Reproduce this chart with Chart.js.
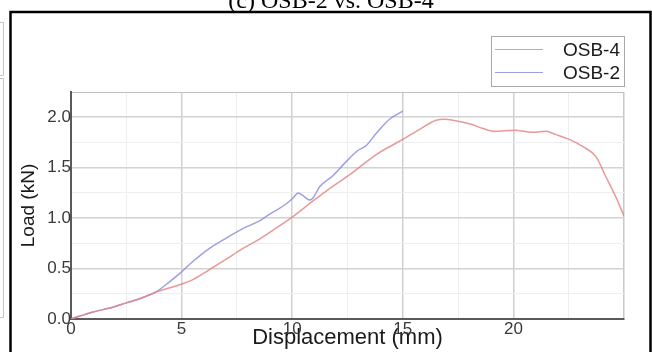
<!DOCTYPE html>
<html>
<head>
<meta charset="utf-8">
<script src="https://cdn.jsdelivr.net/npm/chart.js@4.4.1/dist/chart.umd.min.js"></script>
<style>
  html, body { margin: 0; padding: 0; background: #fff; }
  #wrap { width: 652px; height: 352px; }
</style>
</head>
<body>
<div id="wrap"><canvas id="loadChart" width="652" height="352"></canvas></div>
<script>
// values
const osb2Disp = [0, 1.0, 1.76, 2.5, 3.1, 3.56, 3.86, 4.46, 4.91, 5.51, 6.26, 7.0, 7.9, 8.5, 8.98, 9.66, 10.04, 10.27, 10.5, 10.79, 10.94, 11.24, 11.84, 12.44, 12.97, 13.35, 13.8, 14.4, 15.0];
const osb2Load = [0, 0.07, 0.11, 0.16, 0.2, 0.24, 0.27, 0.37, 0.45, 0.57, 0.70, 0.80, 0.91, 0.97, 1.04, 1.13, 1.2, 1.25, 1.22, 1.18, 1.2, 1.31, 1.42, 1.56, 1.67, 1.72, 1.84, 1.98, 2.06];

const osb4Disp = [0, 1.0, 1.76, 2.5, 3.1, 3.56, 3.86, 4.31, 4.91, 5.51, 6.26, 7.0, 7.7, 8.5, 9.2, 10.0, 10.94, 11.8, 12.6, 13.8, 15.0, 15.76, 16.5, 16.9, 17.26, 18.09, 18.6, 19.14, 20.04, 20.87, 21.47, 21.9, 22.53, 23.2, 23.73, 24.18, 24.63, 25.0];
const osb4Load = [0, 0.07, 0.11, 0.16, 0.2, 0.24, 0.27, 0.30, 0.34, 0.39, 0.49, 0.59, 0.69, 0.79, 0.89, 1.01, 1.17, 1.31, 1.43, 1.63, 1.78, 1.88, 1.97, 1.98, 1.97, 1.93, 1.89, 1.86, 1.87, 1.85, 1.86, 1.83, 1.78, 1.70, 1.61, 1.41, 1.21, 1.02];

const seriesLabels = ['OSB-4', 'OSB-2'];
const xTickLabels = ['0', '5', '10', '15', '20'];
const yTickLabels = ['0.0', '0.5', '1.0', '1.5', '2.0'];
const figCaption = '(c) OSB-2 vs. OSB-4';

const RED = 'rgba(228,135,135,0.85)';
const BLUE = 'rgba(140,142,220,0.85)';

const toPts = (xs, ys) => xs.map((x, i) => ({ x, y: ys[i] }));
const isMult = (v, step) => Math.abs(v / step - Math.round(v / step)) < 1e-6;

Chart.defaults.font.family = "'Liberation Sans', Arial, sans-serif";

// frame, cut-off caption, neighbour panel edge and the legend box
const framePlugin = {
    id: 'frame',
    afterDraw(chart) {
        const ctx = chart.ctx;
        ctx.save();

        // remnants of the panel to the left
        ctx.strokeStyle = '#c4c4c4';
        ctx.lineWidth = 1;
        ctx.beginPath();
        ctx.moveTo(0, 22.5); ctx.lineTo(3.5, 22.5); ctx.lineTo(3.5, 75.5); ctx.lineTo(0, 75.5);
        ctx.moveTo(0, 78.5); ctx.lineTo(3.5, 78.5); ctx.lineTo(3.5, 317.5); ctx.lineTo(0, 317.5);
        ctx.stroke();

        // black frame
        ctx.strokeStyle = '#000';
        ctx.lineWidth = 2.5;
        ctx.strokeRect(10.5, 12, 640, 400);

        // caption, mostly above the picture
        ctx.fillStyle = '#000';
        ctx.font = "24px 'Liberation Serif', 'Times New Roman', serif";
        ctx.textAlign = 'center';
        ctx.textBaseline = 'alphabetic';
        ctx.fillText(figCaption, 331, 8);

        // legend
        const bx = 491, by = 36, bw = 133, bh = 50;
        ctx.fillStyle = '#fff';
        ctx.fillRect(bx, by, bw, bh);
        ctx.strokeStyle = '#a8a8a8';
        ctx.lineWidth = 1;
        ctx.strokeRect(bx + 0.5, by + 0.5, bw, bh);
        ctx.font = "19px 'Liberation Sans', Arial, sans-serif";
        ctx.textAlign = 'right';
        ctx.textBaseline = 'middle';
        chart.data.datasets.forEach((ds, i) => {
            const y = by + 13 + i * 23;
            ctx.strokeStyle = ds.borderColor;
            ctx.lineWidth = 1.2;
            ctx.beginPath();
            ctx.moveTo(bx + 4, y + 0.5);
            ctx.lineTo(bx + 52, y + 0.5);
            ctx.stroke();
            ctx.fillStyle = '#1a1a1a';
            ctx.fillText(ds.label, bx + bw - 4, y + 2);
        });
        ctx.restore();
    }
};

new Chart(document.getElementById('loadChart'), {
    type: 'line',
    data: {
        datasets: [
            {
                label: seriesLabels[0],
                data: toPts(osb4Disp, osb4Load),
                borderColor: RED,
                borderWidth: 1.5,
                pointRadius: 0,
                cubicInterpolationMode: 'monotone',
                fill: false
            },
            {
                label: seriesLabels[1],
                data: toPts(osb2Disp, osb2Load),
                borderColor: BLUE,
                borderWidth: 1.5,
                pointRadius: 0,
                cubicInterpolationMode: 'monotone',
                fill: false
            }
        ]
    },
    options: {
        responsive: false,
        animation: false,
        layout: { padding: { top: 92, right: 28, bottom: 1, left: 0 } },
        plugins: {
            legend: { display: false },
            tooltip: { enabled: false }
        },
        scales: {
            x: {
                type: 'linear',
                min: 0,
                max: 25,
                afterFit: s => { s.height = 32; },
                ticks: {
                    stepSize: 2.5,
                    padding: 0,
                    maxRotation: 0,
                    autoSkip: false,
                    color: '#3a3a3a',
                    font: { size: 17 },
                    callback: v => {
                        const i = xTickLabels.indexOf(String(v));
                        return i >= 0 ? xTickLabels[i] : '';
                    }
                },
                grid: {
                    drawTicks: false,
                    lineWidth: c => (c.tick && isMult(c.tick.value, 5) ? 1.5 : 1),
                    color: c => {
                        const v = c.tick ? c.tick.value : 0;
                        if (v === 25) return '#c8c8c8';
                        return isMult(v, 5) ? '#d0d0d0' : '#eeeeee';
                    }
                },
                border: { display: true, color: '#5a5a5a', width: 2 },
                title: {
                    display: true,
                    text: 'Displacement (mm)',
                    color: '#1a1a1a',
                    font: { size: 22 },
                    padding: { top: 0, bottom: 0 }
                }
            },
            y: {
                type: 'linear',
                min: 0,
                max: 2.25,
                afterFit: s => { s.width = 71; },
                ticks: {
                    stepSize: 0.25,
                    padding: 0,
                    autoSkip: false,
                    color: '#3a3a3a',
                    font: { size: 17 },
                    callback: v => {
                        if (!isMult(v, 0.5)) return '';
                        const s = v.toFixed(1);
                        return yTickLabels.includes(s) ? s : '';
                    }
                },
                grid: {
                    drawTicks: false,
                    lineWidth: c => (c.tick && isMult(c.tick.value, 0.5) ? 1.5 : 1),
                    color: c => {
                        const v = c.tick ? c.tick.value : 0;
                        if (Math.abs(v - 2.25) < 1e-6) return '#c0c0c0';
                        return isMult(v, 0.5) ? '#d2d2d2' : '#eeeeee';
                    }
                },
                border: { display: true, color: '#5a5a5a', width: 2 },
                title: {
                    display: true,
                    text: 'Load (kN)',
                    color: '#1a1a1a',
                    font: { size: 19 },
                    padding: { top: 17, bottom: 0 }
                }
            }
        }
    },
    plugins: [framePlugin]
});
</script>
</body>
</html>
